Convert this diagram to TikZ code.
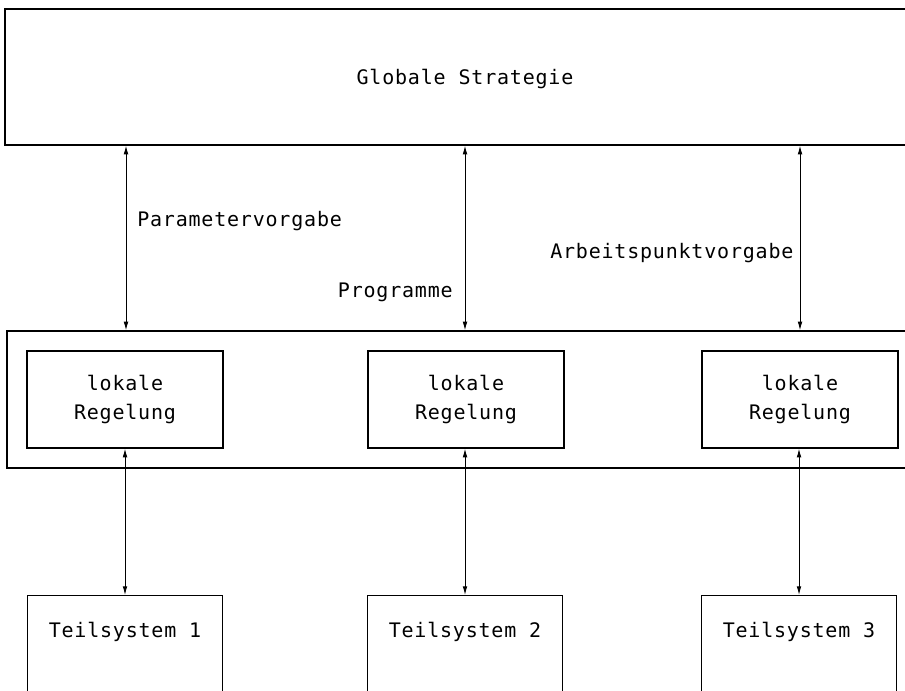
\documentclass[tikz,border=0pt]{standalone}
\usepackage{fontspec}
\usetikzlibrary{arrows.meta,calc}
\newfontfamily\plotfont{DejaVu Sans Mono}[LetterSpace=4]
\begin{document}
\begin{tikzpicture}[x=0.75pt,y=-0.75pt,
  box/.style={draw,line width=1pt,rectangle,inner sep=0pt},
  txt/.style={font=\plotfont\fontsize{15}{21.75}\selectfont,inner sep=0pt,align=center},
  link/.style={line width=0.7pt,{Latex[length=6.5pt,width=3.5pt]}-{Latex[length=6.5pt,width=3.5pt]}}]
\useasboundingbox (0,0) rectangle (905,691);
\clip (0,0) rectangle (905,691);

% upper level: global strategy
\node[box,minimum width=690pt,minimum height=102pt] (glob) at (465,77) {};
\node[txt,anchor=base] (globtxt) at (465,85) {Globale Strategie};

% band holding the local controllers
\node[box,minimum width=687pt,minimum height=102.75pt] (band) at (465,399.5) {};
\node[box,txt,minimum width=147pt,minimum height=72.75pt] (lr1) at (125,399.5) {lokale\\Regelung};
\node[box,txt,minimum width=147pt,minimum height=72.75pt] (lr2) at (466,399.5) {lokale\\Regelung};
\node[box,txt,minimum width=147pt,minimum height=72.75pt] (lr3) at (800,399.5) {lokale\\Regelung};

% subsystems
\node[box,anchor=north,minimum width=146.25pt,minimum height=150pt] (ts1) at (125,595) {};
\node[box,anchor=north,minimum width=146.25pt,minimum height=150pt] (ts2) at (465,595) {};
\node[box,anchor=north,minimum width=146.25pt,minimum height=150pt] (ts3) at (799,595) {};
\node[txt,anchor=base] (ts1txt) at ($(ts1.north)+(0,42)$) {Teilsystem 1};
\node[txt,anchor=base] (ts2txt) at ($(ts2.north)+(0,42)$) {Teilsystem 2};
\node[txt,anchor=base] (ts3txt) at ($(ts3.north)+(0,42)$) {Teilsystem 3};

% connections between the levels
\coordinate (c1) at (126,0);
\coordinate (c2) at (465,0);
\coordinate (c3) at (800,0);
\draw[link] (glob.south -| c1) -- (band.north -| c1);
\draw[link] (glob.south -| c2) -- (band.north -| c2);
\draw[link] (glob.south -| c3) -- (band.north -| c3);
\draw[link] (lr1.south -| ts1.north) -- (ts1.north);
\draw[link] (lr2.south -| ts2.north) -- (ts2.north);
\draw[link] (lr3.south -| ts3.north) -- (ts3.north);

% labels of the upper connections
\node[txt,anchor=base west] (lpar) at (137,227) {Parametervorgabe};
\node[txt,anchor=base east] (lprog) at (453,297) {Programme};
\node[txt,anchor=base west] (larb) at (550,258) {Arbeitspunktvorgabe};
\end{tikzpicture}
\end{document}
